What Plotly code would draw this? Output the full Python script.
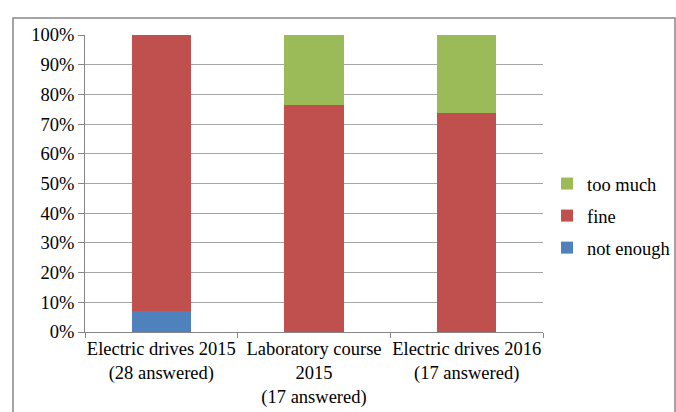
import plotly.graph_objects as go

# Survey responses per course, share of answers in percent
courses = [
    "Electric drives 2015<br>(28 answered)",
    "Laboratory course<br>2015<br>(17 answered)",
    "Electric drives 2016<br>(17 answered)",
]
not_enough = [7.1, 0.0, 0.0]
fine = [92.9, 76.5, 73.9]
too_much = [0.0, 23.5, 26.1]

series = [
    ("not enough", not_enough, "#4f81bd", 3),
    ("fine", fine, "#c0504d", 2),
    ("too much", too_much, "#9bbb59", 1),
]

fig = go.Figure()
for name, values, color, rank in series:
    fig.add_trace(go.Bar(
        x=courses, y=values, name=name, legendgroup=name, legendrank=rank,
        marker=dict(color=color, line=dict(width=0)),
        width=0.39,
    ))

W, H = 676, 412
L, R, T, B = 85, 133, 35, 80
pw, ph = W - L - R, H - T - B
SERIF = "Liberation Serif, Times New Roman, serif"
FS = 18.5

fig.update_layout(
    width=W, height=H,
    barmode="stack",
    margin=dict(l=L, r=R, t=T, b=B, autoexpand=False),
    paper_bgcolor="white", plot_bgcolor="white",
    font=dict(family=SERIF, size=FS, color="black"),
    legend=dict(
        x=(547 - L) / pw, xanchor="left",
        y=(H - B - 216) / ph, yanchor="middle",
        traceorder="grouped",
        font=dict(family=SERIF, size=FS, color="black"),
        bgcolor="rgba(0,0,0,0)",
        tracegroupgap=5,
    ),
)

fig.update_xaxes(
    showline=True, linecolor="#868686", linewidth=1,
    ticks="outside", ticklen=5, tickcolor="#868686",
    tickson="boundaries", tickangle=0,
    showgrid=False,
    tickfont=dict(family=SERIF, size=FS, color="black"),
)
fig.update_yaxes(
    range=[0, 100], dtick=10, ticksuffix="%",
    showline=True, linecolor="#868686", linewidth=1,
    ticks="outside", ticklen=6, tickcolor="#868686",
    showgrid=True, gridcolor="#a6a6a6", gridwidth=1,
    zeroline=False,
    tickfont=dict(family=SERIF, size=FS, color="black"),
)

# Outer chart frame
fig.add_shape(
    type="rect", xref="paper", yref="paper",
    x0=(13 - L) / pw, x1=(675 - L) / pw,
    y0=(H - B - 420) / ph, y1=(H - B - 18) / ph,
    line=dict(color="#868686", width=1.5),
    fillcolor="rgba(0,0,0,0)", layer="below",
)

fig.write_html("out.html")
